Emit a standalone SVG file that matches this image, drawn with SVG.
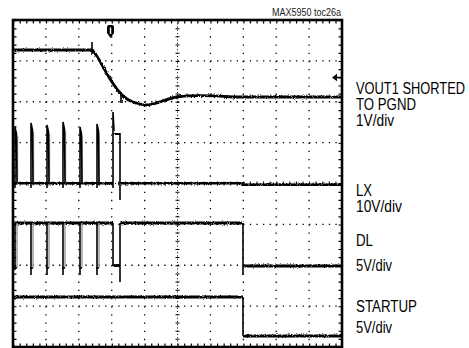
<svg xmlns="http://www.w3.org/2000/svg" width="469" height="348" viewBox="0 0 469 348">
<style>
.frame{fill:none;stroke:#000;stroke-width:2.6}
.grid{stroke:#000;stroke-width:1.3;fill:none}
.tr{fill:none;stroke:#000;stroke-width:2.8;stroke-linejoin:round}
.sp{fill:none;stroke:#000;stroke-width:1.6}
.gr{fill:none;stroke:#9a9a9a;stroke-width:1.4}
.lbl{font-family:"Liberation Sans",Arial,sans-serif;font-size:16px;fill:#000}
.ttl{font-family:"Liberation Sans",Arial,sans-serif;font-size:10px;fill:#222}
</style>
<defs>
<filter id="noise" x="-5%" y="-5%" width="110%" height="110%">
<feTurbulence type="fractalNoise" baseFrequency="0.9" numOctaves="2" seed="3" result="t"/>
<feDisplacementMap in="SourceGraphic" in2="t" scale="2.8" xChannelSelector="R" yChannelSelector="G"/>
</filter>
</defs>
<rect width="469" height="348" fill="#fff"/>
<text class="ttl" x="272" y="16" textLength="69" lengthAdjust="spacingAndGlyphs">MAX5950 toc26a</text>
<g id="grid">
<g class="grid" stroke-dasharray="1.3 5.28">
<line x1="13" y1="60.9" x2="342" y2="60.9"/>
<line x1="13" y1="101.75" x2="342" y2="101.75"/>
<line x1="13" y1="142.6" x2="342" y2="142.6"/>
<line x1="13" y1="224.4" x2="342" y2="224.4"/>
<line x1="13" y1="265.25" x2="342" y2="265.25"/>
<line x1="13" y1="306.1" x2="342" y2="306.1"/>
</g>
<g class="grid" stroke-dasharray="1.3 6.875">
<line x1="45.9" y1="20" x2="45.9" y2="347"/>
<line x1="78.8" y1="20" x2="78.8" y2="347"/>
<line x1="111.7" y1="20" x2="111.7" y2="347"/>
<line x1="144.6" y1="20" x2="144.6" y2="347"/>
<line x1="210.4" y1="20" x2="210.4" y2="347"/>
<line x1="243.3" y1="20" x2="243.3" y2="347"/>
<line x1="276.2" y1="20" x2="276.2" y2="347"/>
<line x1="309.1" y1="20" x2="309.1" y2="347"/>
</g>
<g class="grid">
<line x1="177.5" y1="20" x2="177.5" y2="347" stroke-width="1" stroke-dasharray="1 2.27"/>
<line x1="13" y1="183.5" x2="342" y2="183.5" stroke-width="1" stroke-dasharray="1 2.29"/>
<line x1="177.5" y1="20" x2="177.5" y2="347" stroke-width="4" stroke-dasharray="1 7.175"/>
<line x1="13" y1="183.5" x2="342" y2="183.5" stroke-width="4" stroke-dasharray="1 5.58"/>
<line x1="13" y1="22" x2="342" y2="22" stroke-width="3" stroke-dasharray="1.2 5.38"/>
<line x1="13" y1="345" x2="342" y2="345" stroke-width="3" stroke-dasharray="1.2 5.38"/>
<line x1="15" y1="20" x2="15" y2="347" stroke-width="3" stroke-dasharray="1.2 6.975"/>
<line x1="340" y1="20" x2="340" y2="347" stroke-width="3" stroke-dasharray="1.2 6.975"/>
</g>
<rect class="frame" x="13" y="20" width="329" height="327"/>
</g>
<g id="markers">
<path d="M107,27 Q107,25 109,25 L112,25 Q114,25 114,27 L114,33 L110.5,38 L107,33 Z" fill="#000"/>
<line x1="110.5" y1="27.5" x2="110.5" y2="34" stroke="#fff" stroke-width="1.4"/>
<polygon points="332,77.5 337,73.8 337,81.2" fill="#000"/>
<line x1="336" y1="77.5" x2="341" y2="77.5" stroke="#000" stroke-width="1.5"/>
</g>
<g id="connectors">
<g id="ch1-vout1" filter="url(#noise)">
<path class="tr" d="M13,50 L92,50 C98,55 104,70 112,82 C118,92 124,99 133,102 C139,104 142,105 146,105 C155,105 165,99 177,97 C190,95 205,95 233,97 L342,97"/>
<line class="sp" x1="92" y1="42" x2="92" y2="54"/>
<line class="sp" x1="121" y1="92" x2="121" y2="103"/>
</g>
<g id="ch2-lx">
<path class="tr" filter="url(#noise)" d="M13,183 L113,183 M121,183 L243,183 L243,185 L342,185"/>
<g class="gr">
<line x1="17.5" y1="136" x2="17.5" y2="183"/>
<line x1="33.5" y1="132" x2="33.5" y2="183"/>
<line x1="49.5" y1="134" x2="49.5" y2="183"/>
<line x1="65.5" y1="131" x2="65.5" y2="183"/>
<line x1="82" y1="136" x2="82" y2="183"/>
<line x1="99" y1="133" x2="99" y2="183"/>
</g>
<g class="sp">
<path d="M15,188 L15,127 L16.5,134 L17,183"/>
<path d="M31,188 L31,123 L32.5,130 L33,183"/>
<path d="M47,188 L47,125 L48.5,132 L49,183"/>
<path d="M63,188 L63,122 L64.5,129 L65,183"/>
<path d="M80,188 L80,127 L81.5,134 L82,183"/>
<path d="M97,188 L97,124 L98.5,131 L99,183"/>
<path d="M113,188 L113,112 L114,131"/>
<line x1="120" y1="133" x2="120" y2="200"/>
</g>
<path class="tr" filter="url(#noise)" d="M113.5,133.5 L120,134"/>
</g>
<g id="ch3-dl">
<path class="tr" filter="url(#noise)" d="M13,223 L113,223 M120,223 L243,223 M243,266 L342,266"/>
<path class="tr" d="M113.5,265.5 L120,265.5"/>
<g class="gr">
<line x1="17" y1="268" x2="17" y2="223"/>
<line x1="33" y1="268" x2="33" y2="223"/>
<line x1="49" y1="268" x2="49" y2="223"/>
<line x1="65" y1="268" x2="65" y2="223"/>
<line x1="82" y1="268" x2="82" y2="223"/>
<line x1="99" y1="268" x2="99" y2="223"/>
</g>
<g class="sp">
<path d="M15,223 L15,270 M14,268 L17,268"/>
<path d="M31,223 L31,275 M30,268 L33,268"/>
<path d="M47,223 L47,275 M46,268 L49,268"/>
<path d="M63,223 L63,275 M62,268 L65,268"/>
<path d="M80,223 L80,275 M79,268 L82,268"/>
<path d="M97,223 L97,275 M96,268 L99,268"/>
<line x1="113" y1="223" x2="113" y2="266"/>
<line x1="120" y1="223" x2="120" y2="282"/>
<line x1="243" y1="223" x2="243" y2="275"/>
</g>
</g>
<g id="ch4-startup">
<path class="tr" filter="url(#noise)" d="M13,297 L243,297 M243,336 L342,336"/>
<line class="sp" x1="243" y1="297" x2="243" y2="336"/>
</g>
</g>
<g id="labels">
<text class="lbl" x="356" y="94" textLength="109" lengthAdjust="spacingAndGlyphs">VOUT1 SHORTED</text>
<text class="lbl" x="356" y="110" textLength="60" lengthAdjust="spacingAndGlyphs">TO PGND</text>
<text class="lbl" x="356" y="126" textLength="38" lengthAdjust="spacingAndGlyphs">1V/div</text>
<text class="lbl" x="356" y="196" textLength="16" lengthAdjust="spacingAndGlyphs">LX</text>
<text class="lbl" x="356" y="212" textLength="46" lengthAdjust="spacingAndGlyphs">10V/div</text>
<text class="lbl" x="356" y="246" textLength="17" lengthAdjust="spacingAndGlyphs">DL</text>
<text class="lbl" x="356" y="271" textLength="36" lengthAdjust="spacingAndGlyphs">5V/div</text>
<text class="lbl" x="356" y="312" textLength="61" lengthAdjust="spacingAndGlyphs">STARTUP</text>
<text class="lbl" x="356" y="333" textLength="36" lengthAdjust="spacingAndGlyphs">5V/div</text>
</g>
</svg>
